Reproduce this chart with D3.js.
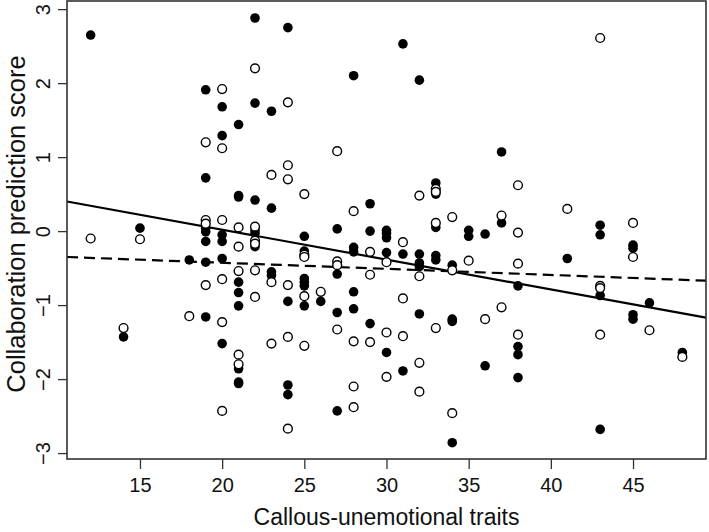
<!DOCTYPE html>
<html><head><meta charset="utf-8">
<script src="https://cdn.jsdelivr.net/npm/d3@7"></script>
<style>body{margin:0;background:#fff}svg{display:block}text{font-family:"Liberation Sans",Arial,sans-serif;fill:#111}</style>
</head><body><div id="chart"></div>
<script>
const filledX = [12,22,19,20,22,23,21,20,19,21,21,22,23,15,19,19,19,20,20,20,18,19,22,22,22,23,23,21,21,21,19,14,20,21,21,21,24,31,28,32,29,33,33,27,25,29,30,30,30,33,35,35,36,25,28,28,30,31,32,32,32,33,33,34,27,25,25,25,24,26,25,28,27,28,32,34,34,29,30,31,36,24,24,27,34,37,37,43,43,45,45,41,38,43,46,45,45,38,38,38,48,43];
const filledY = [2.65,2.88,1.91,1.68,1.73,1.62,1.44,1.29,0.72,0.48,0.46,0.42,0.31,0.04,0.04,-0.01,-0.14,-0.05,-0.14,-0.37,-0.39,-0.42,0.01,-0.03,-0.21,-0.55,-0.60,-0.69,-0.83,-1.01,-1.16,-1.43,-1.52,-1.86,-2.04,-2.06,2.75,2.53,2.10,2.04,0.37,0.65,0.50,0.03,-0.07,0.00,0.01,-0.03,-0.09,0.05,0.01,-0.07,-0.04,-0.27,-0.22,-0.28,-0.29,-0.31,-0.31,-0.43,-0.48,-0.33,-0.39,-0.46,-0.58,-0.64,-0.69,-0.74,-0.95,-0.95,-1.01,-0.82,-1.10,-1.05,-1.12,-1.19,-1.22,-1.25,-1.64,-1.89,-1.82,-2.08,-2.21,-2.43,-2.86,1.07,0.11,0.08,-0.05,-0.19,-0.23,-0.37,-0.74,-0.87,-0.97,-1.13,-1.19,-1.56,-1.67,-1.98,-1.64,-2.68];
const openX = [22,20,19,20,23,12,15,19,19,20,21,21,22,22,22,21,22,23,19,20,22,18,20,14,23,21,21,20,24,27,24,24,25,28,32,33,33,31,33,34,25,25,29,30,32,34,35,27,27,29,24,25,26,31,36,24,25,27,28,29,30,31,33,32,30,28,32,28,34,24,43,38,41,37,38,45,45,38,43,43,37,46,38,43,48];
const openY = [2.20,1.92,1.20,1.12,0.76,-0.10,-0.11,0.15,0.10,0.15,0.05,-0.21,0.06,-0.13,-0.17,-0.54,-0.53,-0.69,-0.73,-0.65,-0.89,-1.15,-1.23,-1.31,-1.52,-1.67,-1.80,-2.43,1.74,1.08,0.89,0.70,0.50,0.27,0.48,0.57,0.53,-0.15,0.11,0.19,-0.32,-0.35,-0.28,-0.42,-0.61,-0.53,-0.40,-0.41,-0.46,-0.59,-0.73,-0.88,-0.82,-0.91,-1.19,-1.43,-1.55,-1.33,-1.49,-1.50,-1.37,-1.42,-1.31,-1.78,-1.97,-2.10,-2.17,-2.38,-2.46,-2.67,2.61,0.62,0.30,0.21,-0.02,0.11,-0.35,-0.44,-0.74,-0.77,-1.03,-1.34,-1.40,-1.40,-1.70];
const xTicks = [15,20,25,30,35,40,45];
const yTicks = [-3,-2,-1,0,1,2,3];
const solidFit = [0.827, -0.0404];   // intercept, slope
const dashedFit = [-0.263, -0.00823];
const xLabel = "Callous-unemotional traits";
const yLabel = "Collaboration prediction score";

const W = 709, H = 532;
const L = 67, R = 706, T = 1, B = 459;
const svg = d3.select("#chart").append("svg").attr("width", W).attr("height", H);
const x = d3.scaleLinear().domain([10.56, 49.44]).range([L, R]);
const y = d3.scaleLinear().domain([-3.08, 3.11]).range([B, T]);

const g = svg.append("g");
function fitLine(c, dash) {
  const xs = x.domain();
  g.append("line")
    .attr("x1", x(xs[0])).attr("y1", y(c[0] + c[1] * xs[0]))
    .attr("x2", x(xs[1])).attr("y2", y(c[0] + c[1] * xs[1]))
    .attr("stroke", "#000").attr("stroke-width", 2.2)
    .attr("stroke-dasharray", dash || null);
}
fitLine(solidFit);
fitLine(dashedFit, "11,6");

g.selectAll("circle.f").data(filledX.map((v, i) => [v, filledY[i]])).join("circle")
  .attr("class", "f").attr("cx", d => x(d[0])).attr("cy", d => y(d[1]))
  .attr("r", 4.8).attr("fill", "#000");
g.selectAll("circle.o").data(openX.map((v, i) => [v, openY[i]])).join("circle")
  .attr("class", "o").attr("cx", d => x(d[0])).attr("cy", d => y(d[1]))
  .attr("r", 4.4).attr("fill", "#fff").attr("stroke", "#000").attr("stroke-width", 1.4);

svg.append("rect").attr("x", L).attr("y", T).attr("width", R - L).attr("height", B - T)
  .attr("fill", "none").attr("stroke", "#333").attr("stroke-width", 1.6);

const xa = svg.append("g").attr("transform", `translate(0,${B})`)
  .call(d3.axisBottom(x).tickValues(xTicks).tickSize(10).tickPadding(9).tickFormat(d3.format("d")));
xa.select(".domain").remove();
xa.selectAll("line").attr("stroke", "#333").attr("stroke-width", 1.3);
xa.selectAll("text").attr("font-size", 20).attr("fill", "#111").attr("font-family", "Liberation Sans, Arial, sans-serif");

const ya = svg.append("g").attr("transform", `translate(${L},0)`)
  .call(d3.axisLeft(y).tickValues(yTicks).tickSize(9).tickFormat(d => d < 0 ? "\u2212" + Math.abs(d) : String(d)));
ya.select(".domain").remove();
ya.selectAll("line").attr("stroke", "#333").attr("stroke-width", 1.3);
ya.selectAll("text").attr("font-size", 20).attr("fill", "#111").attr("font-family", "Liberation Sans, Arial, sans-serif")
  .attr("x", null).attr("dy", null).attr("text-anchor", "middle")
  .attr("transform", "translate(-17,0) rotate(-90)");

svg.append("text").attr("x", (L + R) / 2).attr("y", 525).attr("text-anchor", "middle")
  .attr("font-size", 23).text(xLabel);
svg.append("text").attr("transform", `translate(25,${(T + B) / 2 - 6}) rotate(-90)`).attr("text-anchor", "middle")
  .attr("font-size", 25.5).text(yLabel);
</script></body></html>
